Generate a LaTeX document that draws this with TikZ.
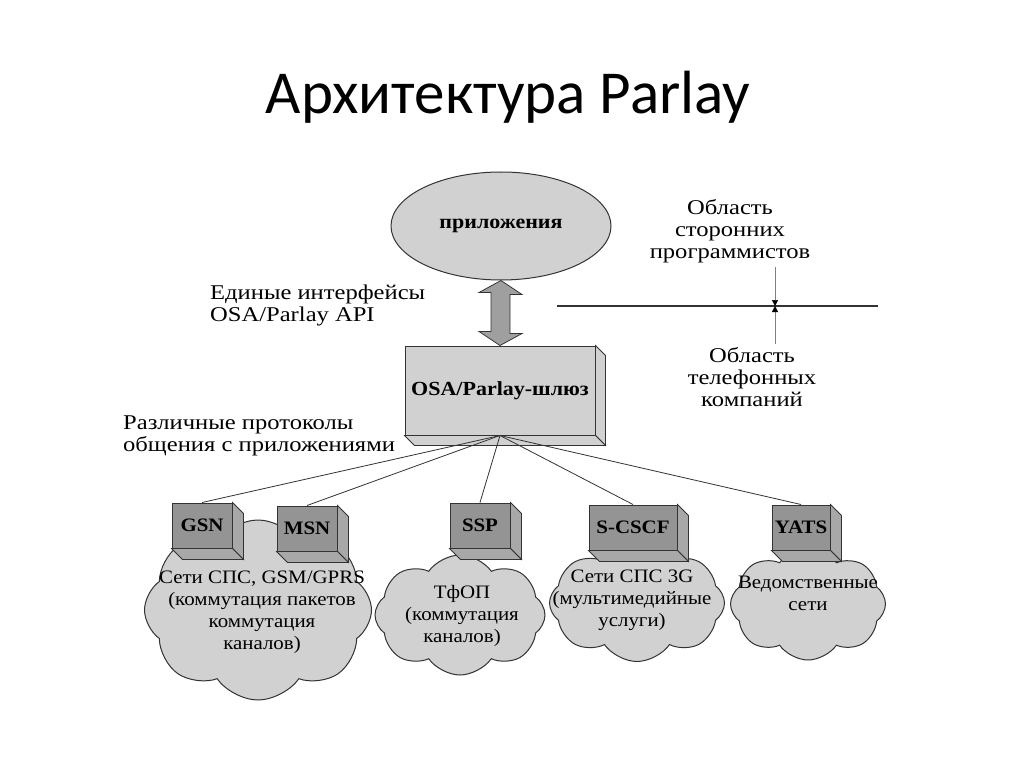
\documentclass[tikz,border=0pt]{standalone}
\usepackage{fontspec}
\setmainfont{Liberation Serif}[FakeStretch=1.1]
\newfontfamily\shir{Liberation Serif}[FakeStretch=1.17]
\newfontfamily\titlefont{Carlito}
\usepackage{tikz}
\usetikzlibrary{shapes.geometric,shapes.symbols,calc,arrows.meta}

\definecolor{svetlo}{gray}{0.82}
\definecolor{temno}{gray}{0.58}
\definecolor{bok}{gray}{0.66}
\definecolor{kontur}{gray}{0.2}

\tikzset{
	oblako/.style={cloud, cloud puffs=8, cloud puff arc=110, cloud ignores aspect, draw=kontur, line width=1pt, fill=svetlo, inner sep=0pt},
	tekst/.style={align=center, inner sep=0pt, font=\fontsize{19}{22}\selectfont},
	kub/.style={draw=kontur, line width=1pt, fill=temno, inner sep=0pt, minimum width=60, minimum height=45, font=\fontsize{19}{22}\selectfont\bfseries},
	podpis/.style={align=left, font=\shir\fontsize{21}{22}\selectfont, inner sep=0pt},
	liniya/.style={draw=kontur, line width=0.8pt}
}

% bokovye grani kuba
\newcommand\grani[3][bok]{%
	\draw[liniya, fill=#1] (#2.north east) -- ++(#3,#3) -- ($(#2.south east)+(#3,#3)$) -- (#2.south east) -- cycle;
	\draw[liniya, fill=#1] (#2.south west) -- ++(#3,#3) -- ($(#2.south east)+(#3,#3)$) -- (#2.south east) -- cycle;
}

\begin{document}
\begin{tikzpicture}[x=1pt, y=-1pt]
	\useasboundingbox[fill=white] (0,0) rectangle (1024,767);

	\node (zag) at (508,97) {\titlefont\fontsize{61}{61}\selectfont Архитектура Parlay};

	% verhnyaya chast
	\node[ellipse, draw=kontur, line width=1pt, fill=svetlo, minimum width=220, minimum height=108, font=\fontsize{20}{22}\selectfont\bfseries] (pril) at (501,226) {приложения};
	\node[draw=kontur, line width=1pt, fill=svetlo, minimum width=190, minimum height=89, inner sep=0pt, font=\fontsize{20}{22}\selectfont\bfseries] (shluz) at (500,390.5) {OSA/Parlay-шлюз};
	\grani[svetlo]{shluz}{10}

	\draw[liniya, fill=gray!75] (pril.south) -- ++(21,14) -- ++(-12,0) -- ++(0,39) -- ++(12,0) -- (shluz.north) -- ++(-21,-14) -- ++(12,0) -- ++(0,-39) -- ++(-12,0) -- cycle;

	\node[podpis, anchor=west] (api) at (210,305.5) {Единые интерфейсы\\OSA/Parlay API};
	\node[podpis, anchor=west] (prot) at (123,436) {Различные протоколы\\общения с приложениями};

	% oblasti
	\node[podpis, align=center] (obl1) at (730,231.5) {Область\\сторонних\\программистов};
	\node[podpis, align=center] (obl2) at (752,377.5) {Область\\телефонных\\компаний};
	\coordinate (gr1) at (557,306);
	\coordinate (gr2) at (878,306);
	\coordinate (razd) at (775,306);
	\draw[line width=1.2pt, kontur] (gr1) -- (gr2);
	\draw[gray, line width=0.5pt, -{Triangle[length=6pt, width=6pt, black]}] (razd |- obl1.south) ++(0,4) -- (razd);
	\draw[gray, line width=0.5pt, -{Triangle[length=6pt, width=6pt, black]}] (razd |- obl2.north) ++(0,-4) -- (razd);

	% oblaka
	\node[oblako, minimum width=227, minimum height=180] (set1) at (258,610) {};
	\node[oblako, minimum width=170, minimum height=120] (set2) at (460,615) {};
	\node[oblako, minimum width=175, minimum height=117] (set3) at (637,603) {};
	\node[oblako, minimum width=155, minimum height=112] (set4) at (808,604) {};
	\node[tekst] (t1) at (262,612.5) {Сети СПС, GSM/GPRS\\(коммутация пакетов\\коммутация\\каналов)};
	\node[tekst] (t2) at (462,615.5) {ТфОП\\(коммутация\\каналов)};
	\node[tekst] (t3) at (632,600) {Сети СПС 3G\\(мультимедийные\\услуги)};
	\node[tekst] (t4) at (808,593.5) {Ведомственные\\сети};

	% uzly
	\node[kub] (gsn) at (202,525.5) {GSN};
	\node[kub] (msn) at (307,528.5) {MSN};
	\node[kub] (ssp) at (480,525.5) {SSP};
	\node[kub, minimum width=88] (cscf) at (633,527.5) {S-CSCF};
	\node[kub, minimum width=58] (yats) at (801,527.5) {YATS};
	\foreach \u in {gsn,msn,ssp,cscf,yats} {
		\grani{\u}{11}
		\draw[liniya] (shluz.south) -- (\u.north);
	}
\end{tikzpicture}
\end{document}
